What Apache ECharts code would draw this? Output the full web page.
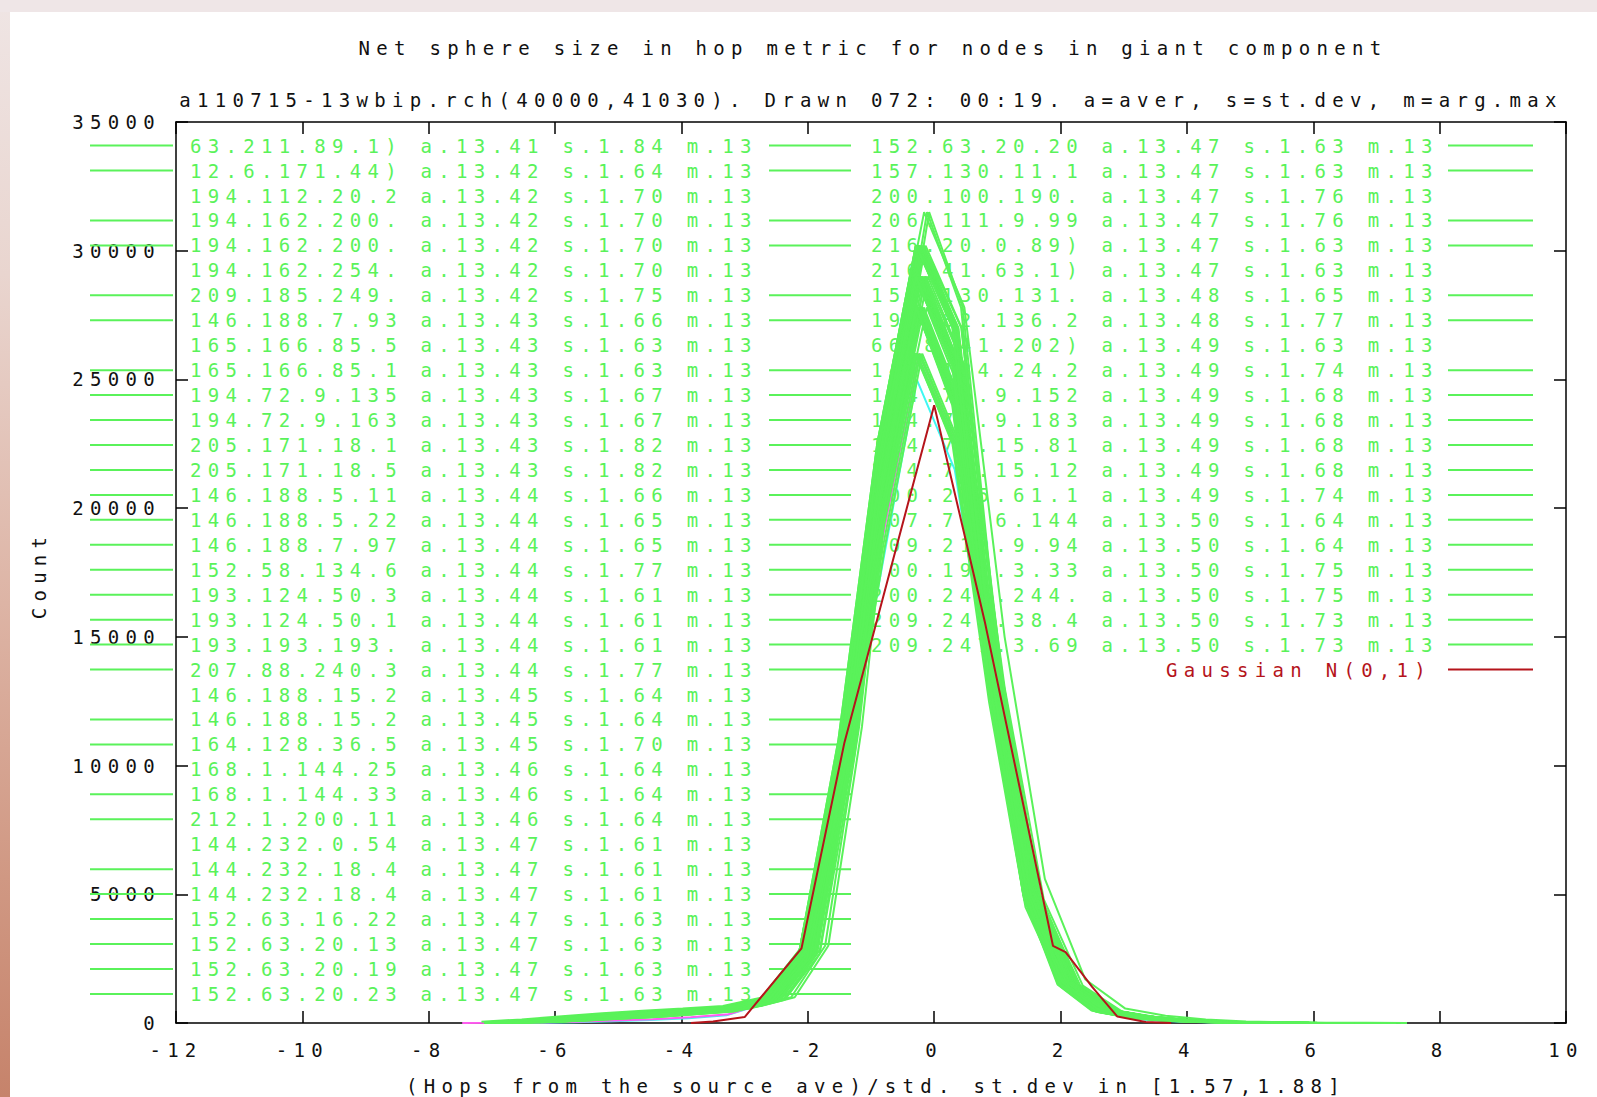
<!DOCTYPE html>
<html>
<head>
<meta charset="utf-8">
<title>Net sphere size in hop metric</title>
<script src="https://cdn.jsdelivr.net/npm/echarts@6/dist/echarts.min.js"></script>
<style>
  html, body { margin: 0; padding: 0; width: 1597px; height: 1097px; overflow: hidden; }
  body { background: linear-gradient(to bottom, #efe5e4 0%, #e9d5cf 25%, #ddb4a5 55%, #d09883 80%, #c6836b 100%); }
  #topband { position: absolute; left: 0; top: 0; width: 1597px; height: 12px; background: #efe6e7; }
  #paper { position: absolute; left: 10px; top: 12px; width: 1587px; height: 1085px; background: #ffffff; }
  #chart { position: absolute; left: 0; top: 0; width: 1597px; height: 1097px; }
  #chart text { letter-spacing: 6.3px !important; }
</style>
</head>
<body>
<div id="topband"></div>
<div id="paper"></div>
<div id="chart"></div>
<script>
// ---- data -------------------------------------------------------------

// hop counts from the source node (x before normalisation)
const HOPS = [2, 3, 4, 5, 6, 7, 8, 9, 10, 11, 12, 13, 14, 15, 16, 17, 18, 19, 20, 21, 22, 23, 24, 25];

// node counts per hop, a few typical sphere-size profiles
const PROFILE_TALL = [50, 140, 260, 380, 480, 560, 660, 1000, 3000, 11500, 23500, 31500, 27800, 15000, 5600, 1700, 560, 280, 140, 60, 25, 10, 5, 2];
const PROFILE_HIGH = [40, 115, 220, 330, 430, 510, 610, 950, 2850, 11000, 22500, 30200, 27000, 14200, 5300, 1600, 520, 250, 120, 50, 20, 8, 4, 1];
const PROFILE_MID  = [28, 90, 180, 280, 370, 460, 560, 900, 2700, 10500, 21500, 29000, 25500, 13500, 5000, 1500, 480, 220, 100, 45, 16, 6, 3, 1];
const PROFILE_LOW  = [16, 65, 140, 230, 310, 410, 510, 850, 2550, 10000, 20500, 27800, 24000, 13000, 4800, 1450, 450, 200, 90, 38, 13, 5, 2, 0];
const PROFILE_THIN = [6, 40, 100, 170, 240, 350, 460, 800, 2400, 9500, 18500, 26000, 22500, 12500, 4500, 1400, 420, 170, 75, 30, 10, 4, 1, 0];
const PROFILES = [PROFILE_TALL, PROFILE_HIGH, PROFILE_MID, PROFILE_LOW, PROFILE_THIN];

// sources of the first key column (its text falls left of the page)
const offAver = [
  13.15, 13.17, 13.19, 13.21, 13.22, 13.24, 13.25, 13.26, 13.27, 13.28,
  13.29, 13.30, 13.31, 13.32, 13.32, 13.33, 13.34, 13.34, 13.35, 13.35,
  13.36, 13.36, 13.37, 13.37, 13.38, 13.38, 13.38, 13.39, 13.39, 13.39,
  13.40, 13.40, 13.40, 13.41, 13.41
];
const offStdev = [
  1.88, 1.70, 1.62, 1.86, 1.66, 1.75, 1.57, 1.80, 1.64, 1.68,
  1.72, 1.60, 1.83, 1.66, 1.69, 1.63, 1.78, 1.65, 1.71, 1.62,
  1.67, 1.74, 1.64, 1.69, 1.81, 1.63, 1.66, 1.72, 1.61, 1.65,
  1.70, 1.77, 1.64, 1.68, 1.62
];
const offShape = [
  0, 2, 3, 0, 2, 1, 0, 2, 3, 1,
  2, 3, 1, 2, 4, 3, 1, 2, 2, 3,
  1, 2, 3, 4, 1, 2, 3, 2, 4, 1,
  2, 3, 1, 2, 3
];

// sources of the two visible key columns, in key order
const hosts = [
  '63.211.89.1)', '12.6.171.44)', '194.112.20.2', '194.162.200.', '194.162.200.',
  '194.162.254.', '209.185.249.', '146.188.7.93', '165.166.85.5', '165.166.85.1',
  '194.72.9.135', '194.72.9.163', '205.171.18.1', '205.171.18.5', '146.188.5.11',
  '146.188.5.22', '146.188.7.97', '152.58.134.6', '193.124.50.3', '193.124.50.1',
  '193.193.193.', '207.88.240.3', '146.188.15.2', '146.188.15.2', '164.128.36.5',
  '168.1.144.25', '168.1.144.33', '212.1.200.11', '144.232.0.54', '144.232.18.4',
  '144.232.18.4', '152.63.16.22', '152.63.20.13', '152.63.20.19', '152.63.20.23',
  '152.63.20.20', '157.130.11.1', '200.100.190.', '206.111.9.99', '216.20.0.89)',
  '216.41.63.1)', '157.130.131.', '195.82.136.2', '66.8.41.202)', '144.184.24.2',
  '194.72.9.152', '194.72.9.183', '194.73.15.81', '194.73.15.12', '200.205.61.1',
  '207.71.6.144', '209.210.9.94', '200.192.3.33', '200.241.244.', '209.247.38.4',
  '209.247.3.69'
];
// a = average hops
const aver = [
  13.41, 13.42, 13.42, 13.42, 13.42, 13.42, 13.42, 13.43, 13.43, 13.43,
  13.43, 13.43, 13.43, 13.43, 13.44, 13.44, 13.44, 13.44, 13.44, 13.44,
  13.44, 13.44, 13.45, 13.45, 13.45, 13.46, 13.46, 13.46, 13.47, 13.47,
  13.47, 13.47, 13.47, 13.47, 13.47, 13.47, 13.47, 13.47, 13.47, 13.47,
  13.47, 13.48, 13.48, 13.49, 13.49, 13.49, 13.49, 13.49, 13.49, 13.49,
  13.50, 13.50, 13.50, 13.50, 13.50, 13.50
];
// s = standard deviation of hops
const stdev = [
  1.84, 1.64, 1.70, 1.70, 1.70, 1.70, 1.75, 1.66, 1.63, 1.63,
  1.67, 1.67, 1.82, 1.82, 1.66, 1.65, 1.65, 1.77, 1.61, 1.61,
  1.61, 1.77, 1.64, 1.64, 1.70, 1.64, 1.64, 1.64, 1.61, 1.61,
  1.61, 1.63, 1.63, 1.63, 1.63, 1.63, 1.63, 1.76, 1.76, 1.63,
  1.63, 1.65, 1.77, 1.63, 1.74, 1.68, 1.68, 1.68, 1.68, 1.74,
  1.64, 1.64, 1.75, 1.75, 1.73, 1.73
];
// m = hop of the maximum
const argmax = [
  13, 13, 13, 13, 13, 13, 13, 13, 13, 13, 13, 13, 13, 13, 13, 13, 13, 13, 13, 13,
  13, 13, 13, 13, 13, 13, 13, 13, 13, 13, 13, 13, 13, 13, 13, 13, 13, 13, 13, 13,
  13, 13, 13, 13, 13, 13, 13, 13, 13, 13, 13, 13, 13, 13, 13, 13
];
// which count profile each source follows (index into PROFILES)
const shape = [
  2, 1, 2, 3, 1, 2, 1, 2, 3, 2,
  1, 3, 2, 1, 2, 3, 1, 2, 4, 3,
  2, 1, 3, 2, 1, 3, 2, 1, 4, 3,
  3, 2, 1, 2, 3, 2, 1, 2, 1, 3,
  2, 1, 3, 2, 1, 2, 3, 2, 4, 1,
  2, 4, 3, 2, 1, 4
];

// two further sources drawn in other colours
const extraCyan = { ave: 13.46, sd: 1.66,
  hops: [2, 3, 4, 5, 6, 7, 8, 9, 10, 11, 12, 13, 14, 15, 16, 17, 18, 19, 20, 21, 22, 23, 24, 25],
  counts: [0, 10, 30, 70, 120, 180, 300, 750, 2300, 9200, 17000, 25000, 21500, 12300, 4600, 1400, 420, 130, 50, 18, 6, 2, 1, 0] };
const extraMagenta = { ave: 13.40, sd: 1.66,
  hops: [1, 2, 3, 4, 5, 6, 7, 8, 9, 10, 11, 12, 13, 14, 15, 16, 17, 18, 19, 20, 21, 22, 23, 24, 25],
  counts: [0, 5, 20, 50, 100, 150, 220, 340, 800, 2500, 9800, 18500, 26000, 22500, 13200, 5600, 1700, 470, 150, 55, 20, 8, 3, 1, 0] };

// reference normal curve N(0,1), scaled
const gaussX = [-3.85, -3.5, -3.0, -2.1, -1.42, 0, 0.8, 1.88, 2.08, 2.5, 2.9, 3.35, 3.75];
const gaussY = [0, 60, 230, 2900, 10900, 24000, 15600, 3000, 2750, 1400, 250, 40, 0];

const xTicks = { min: -12, max: 10, step: 2 };
const yTicks = { min: 0, max: 35000, step: 5000 };

// ---- styling ---------------------------------------------------------
const GREEN = '#5af25a';
const RED = '#b5141b';
const FONT_FAMILY = '"DejaVu Sans Mono", monospace';
const FONT = '19px ' + FONT_FAMILY;

const PLOT = { left: 176, top: 122, right: 1566, bottom: 1023 };
const KEY = { rowTop: 145.6, rowStep: 24.95, rows: 35,
  textX: [190, 871], sampleX: [[769, 851], [1448, 1533]], offSampleX: [90, 173] };
const KEY_NO_SAMPLE = [2, 5, 8, 22, 25, 28];

// ---- build -----------------------------------------------------------
function normalised(hops, counts, ave, sd) {
  return hops.map((h, i) => [(h - ave) / sd, counts[i]]);
}
function greenLine(name, data) {
  return { name: name, type: 'line', symbol: 'none', silent: true, animation: false,
    lineStyle: { color: GREEN, width: 2 }, data: data };
}

const series = [];
series.push({ name: 'cyan', type: 'line', symbol: 'none', silent: true, animation: false,
  lineStyle: { color: '#3ff7f2', width: 2 },
  data: normalised(extraCyan.hops, extraCyan.counts, extraCyan.ave, extraCyan.sd) });
series.push({ name: 'magenta', type: 'line', symbol: 'none', silent: true, animation: false,
  lineStyle: { color: '#ff5cf0', width: 2 },
  data: normalised(extraMagenta.hops, extraMagenta.counts, extraMagenta.ave, extraMagenta.sd) });

offAver.forEach((a, i) => {
  series.push(greenLine('key column 1 / ' + i, normalised(HOPS, PROFILES[offShape[i]], a, offStdev[i])));
});
hosts.forEach((host, i) => {
  series.push(greenLine(host + ' #' + i, normalised(HOPS, PROFILES[shape[i]], aver[i], stdev[i])));
});

series.push({
  name: 'Gaussian N(0,1)', type: 'line', symbol: 'none', silent: true, animation: false,
  lineStyle: { color: RED, width: 2 }, z: 5,
  data: gaussX.map((x, i) => [x, gaussY[i]])
});

// key: text entries followed by a line sample, gnuplot style
const graphics = [];
function rowY(r) { return KEY.rowTop + r * KEY.rowStep; }
function addSample(x1, x2, y, color) {
  graphics.push({ type: 'line', z: 1, silent: true,
    shape: { x1: x1, y1: y, x2: x2, y2: y },
    style: { stroke: color, lineWidth: 2 } });
}
function addText(text, x, y, color, align, rotation) {
  graphics.push({ type: 'text', z: 1, silent: true, x: x, y: y, rotation: rotation || 0,
    style: { text: text, fill: color, font: FONT, textAlign: align || 'left', textVerticalAlign: 'middle' } });
}

for (let r = 0; r < offAver.length; r++) {
  if (KEY_NO_SAMPLE.indexOf(r) < 0) addSample(KEY.offSampleX[0], KEY.offSampleX[1], rowY(r), GREEN);
}
hosts.forEach((host, i) => {
  const col = i < KEY.rows ? 0 : 1;
  const r = col === 0 ? i : i - KEY.rows;
  const y = rowY(r);
  const label = host + ' a.' + aver[i].toFixed(2) + ' s.' + stdev[i].toFixed(2) + ' m.' + argmax[i];
  addText(label, KEY.textX[col], y, GREEN);
  if (KEY_NO_SAMPLE.indexOf(r) < 0) addSample(KEY.sampleX[col][0], KEY.sampleX[col][1], y, GREEN);
});
{
  const r = hosts.length - KEY.rows;
  addText('Gaussian N(0,1)', 1166, rowY(r), RED);
  addSample(KEY.sampleX[1][0], KEY.sampleX[1][1], rowY(r), RED);
}

// titles and axis names
addText('Net sphere size in hop metric for nodes in giant component', 873, 48, '#111', 'center');
addText('a110715-13wbip.rch(40000,41030). Drawn 072: 00:19. a=aver, s=st.dev, m=arg.max', 871, 100, '#111', 'center');
addText('(Hops from the source ave)/std. st.dev in [1.57,1.88]', 876, 1086, '#111', 'center');
addText('Count', 39, 575, '#111', 'center', Math.PI / 2);

const tickLine = { show: true, inside: true, length: 12, lineStyle: { color: '#000', width: 1.5 } };
const frameLine = { show: true, onZero: false, lineStyle: { color: '#000', width: 1.5 } };
const labelStyle = { color: '#111', fontFamily: FONT_FAMILY, fontSize: 19 };

const option = {
  animation: false,
  backgroundColor: 'transparent',
  grid: { left: PLOT.left, top: PLOT.top, right: 1597 - PLOT.right, bottom: 1097 - PLOT.bottom,
          containLabel: false, outerBoundsMode: 'none', show: false },
  xAxis: [
    { type: 'value', position: 'bottom', min: xTicks.min, max: xTicks.max, interval: xTicks.step,
      axisLine: frameLine, axisTick: tickLine, splitLine: { show: false },
      axisLabel: Object.assign({ margin: 17, showMinLabel: true, showMaxLabel: true,
        formatter: v => String(v) }, labelStyle) },
    { type: 'value', position: 'top', min: xTicks.min, max: xTicks.max, interval: xTicks.step,
      axisLine: frameLine, axisTick: tickLine, splitLine: { show: false }, axisLabel: { show: false } }
  ],
  yAxis: [
    { type: 'value', position: 'left', min: yTicks.min, max: yTicks.max, interval: yTicks.step,
      axisLine: frameLine, axisTick: tickLine, splitLine: { show: false },
      axisLabel: Object.assign({ margin: 15, showMinLabel: true, showMaxLabel: true,
        formatter: v => String(v) }, labelStyle) },
    { type: 'value', position: 'right', min: yTicks.min, max: yTicks.max, interval: yTicks.step,
      axisLine: frameLine, axisTick: tickLine, splitLine: { show: false }, axisLabel: { show: false } }
  ],
  graphic: { elements: graphics },
  series: series
};

const chart = echarts.init(document.getElementById('chart'), null, { renderer: 'svg' });
chart.setOption(option);
</script>
</body>
</html>
